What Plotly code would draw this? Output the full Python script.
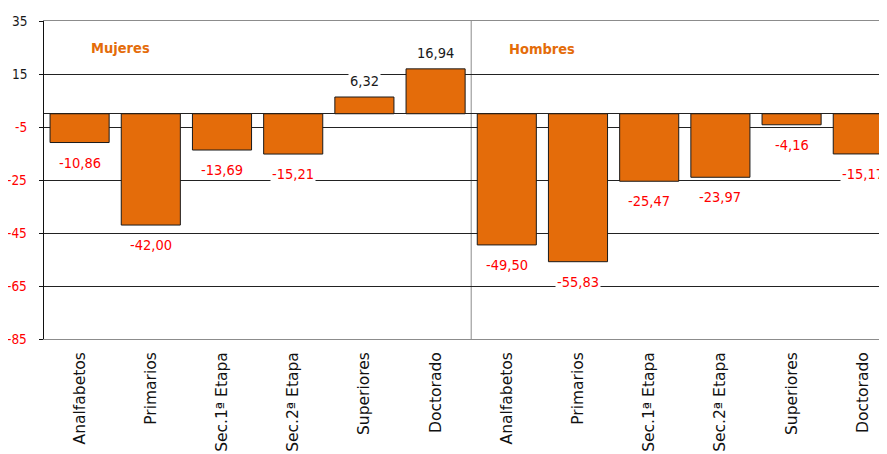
import plotly.graph_objects as go

# categories (two groups of six, Mujeres then Hombres)
niveles = ["Analfabetos", "Primarios", "Sec.1ª Etapa", "Sec.2ª Etapa", "Superiores", "Doctorado"]
categorias = niveles + niveles
mujeres = [-10.86, -42.00, -13.69, -15.21, 6.32, 16.94]
hombres = [-49.50, -55.83, -25.47, -23.97, -4.16, -15.17]
valores = mujeres + hombres

y_ticks = [35, 15, -5, -25, -45, -65, -85]

ORANGE = "#E46C0A"
NUM_FONT = "DejaVu Sans Condensed, Liberation Sans, Arial, sans-serif"

x_pos = list(range(len(categorias)))

fig = go.Figure()
fig.add_trace(go.Bar(
    x=x_pos, y=valores, width=0.83,
    marker=dict(color=ORANGE, line=dict(color="#1a1a1a", width=1)),
    hoverinfo="skip",
))

# data labels, red for negatives
for xi, v in zip(x_pos, valores):
    txt = f"{v:.2f}".replace(".", ",")
    fig.add_annotation(
        x=xi, y=v, text=txt, showarrow=False,
        yshift=-20 if v < 0 else 16, yanchor="middle",
        font=dict(family=NUM_FONT, size=14.5, color="#FF0000" if v < 0 else "#1a1a1a"),
        bgcolor="white", borderpad=1,
    )

# y tick labels drawn as text so negatives can be red
for t in y_ticks:
    fig.add_annotation(
        x=0, xref="paper", y=t, yref="y", text=str(t), showarrow=False,
        xanchor="right", yanchor="middle", xshift=-15,
        font=dict(family=NUM_FONT, size=13.5, color="#FF0000" if t < 0 else "#1a1a1a"),
    )

# group titles
for name, gx, gy in [("Mujeres", 0.57, 25), ("Hombres", 6.5, 24.3)]:
    fig.add_annotation(
        x=gx, y=gy, text=f"<b>{name}</b>", showarrow=False,
        font=dict(family=NUM_FONT, size=14.5, color=ORANGE),
    )

# separator between groups
fig.add_shape(type="line", x0=5.5, x1=5.5, y0=-85, y1=35, xref="x", yref="y",
              line=dict(color="#8c8c8c", width=1), layer="below")

# page body adds an 8px offset, so the figure is a bit smaller than the window
fig.update_layout(
    width=879, height=446,
    margin=dict(l=36, r=0, t=13, b=115, autoexpand=False),
    paper_bgcolor="white", plot_bgcolor="white",
    showlegend=False,
    xaxis=dict(
        range=[-0.5, 11.34], tickmode="array", tickvals=x_pos, ticktext=categorias,
        tickangle=-90, showgrid=False, zeroline=False, automargin=False,
        showline=True, linecolor="#8c8c8c", linewidth=1, mirror=True,
        ticks="", ticklabelstandoff=6,
        tickfont=dict(family="DejaVu Sans, Verdana, sans-serif", size=15.5, color="#111"),
    ),
    yaxis=dict(
        range=[-85, 35], tickmode="array", tickvals=y_ticks,
        showticklabels=False, automargin=False,
        showgrid=True, gridcolor="#222", gridwidth=1,
        zeroline=True, zerolinecolor="#222", zerolinewidth=1,
        showline=True, linecolor="#111", linewidth=1,
        ticks="outside", ticklen=4, tickcolor="#111",
    ),
)

fig.write_html("out.html")
